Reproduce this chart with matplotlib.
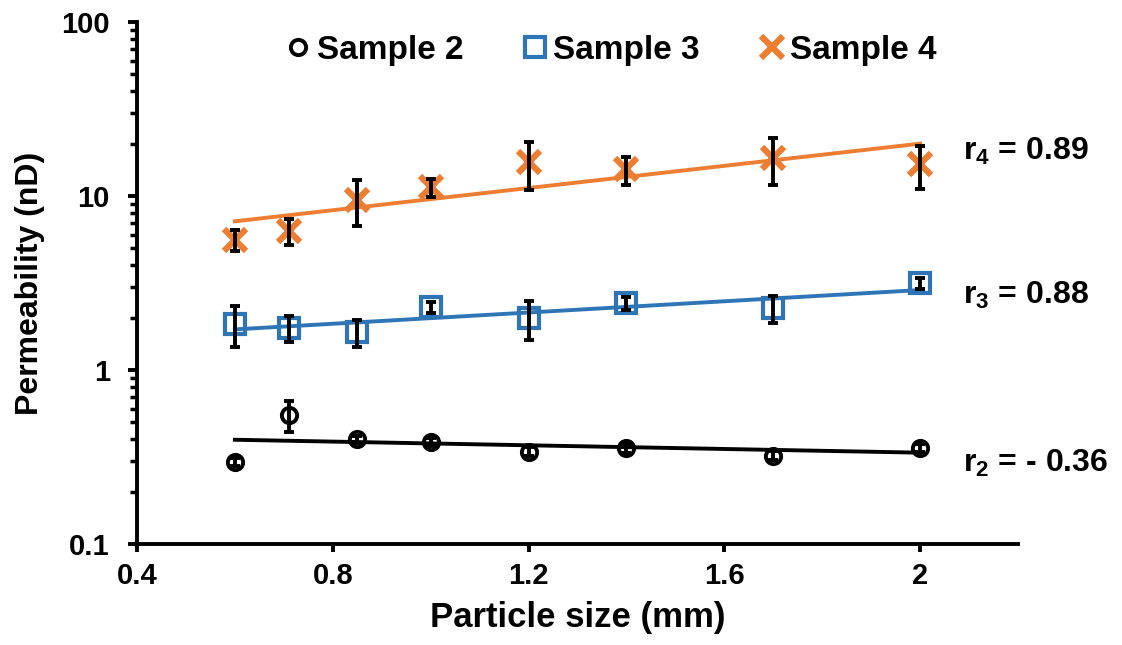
import numpy as np
import matplotlib
matplotlib.use("Agg")
import matplotlib.pyplot as plt
from matplotlib.ticker import LogLocator, NullFormatter, FixedLocator

plt.rcParams['font.family'] = ['Liberation Sans', 'DejaVu Sans']
plt.rcParams['font.weight'] = 'bold'
plt.rcParams['mathtext.fontset'] = 'custom'
plt.rcParams['mathtext.rm'] = 'Liberation Sans:bold'
plt.rcParams['mathtext.it'] = 'Liberation Sans:bold'
plt.rcParams['mathtext.bf'] = 'Liberation Sans:bold'

# particle sizes (mm)
size = [0.6, 0.71, 0.85, 1.0, 1.2, 1.4, 1.7, 2.0]

# permeability (nD) and error bars
s2 = [0.297, 0.552, 0.400, 0.386, 0.340, 0.355, 0.322, 0.357]
s2_err = [0.015, 0.11, 0.02, 0.02, 0.02, 0.02, 0.02, 0.02]
s3 = [1.84, 1.74, 1.65, 2.30, 1.99, 2.42, 2.26, 3.15]
s3_err = [0.49, 0.30, 0.29, 0.17, 0.50, 0.20, 0.40, 0.23]
s4 = [5.6, 6.3, 9.5, 11.2, 15.6, 14.2, 16.6, 15.2]
s4_err = [0.8, 1.1, 2.8, 1.3, 4.8, 2.6, 5.0, 4.2]

labels = ['Sample 2', 'Sample 3', 'Sample 4']
r_texts = ['r$_2$ = - 0.36', 'r$_3$ = 0.88', 'r$_4$ = 0.89']
colors = ['black', '#2E75B6', '#ED7D31']

fig = plt.figure(figsize=(11.22, 6.45), dpi=100)
ax = fig.add_axes([0.1221, 0.1566, 0.7852, 0.8093])

x = np.array(size)
series = [(s2, s2_err, 'o', 11, 2.8), (s3, s3_err, 's', 15, 3.0), (s4, s4_err, 'x', 16, 4.5)]
handles = []
for (vals, err, mk, ms, mew), col, lab in zip(series, colors, labels):
    vals = np.array(vals)
    # exponential trend line (fit on log scale)
    k, b = np.polyfit(x, np.log10(vals), 1)
    xf = np.linspace(x.min(), x.max(), 50)
    ax.plot(xf, 10 ** (k * xf + b), color=col, lw=2.8, zorder=2)
    h, = ax.plot(x, vals, linestyle='none', marker=mk, ms=ms, mew=mew,
                 mec=col, mfc='none', color=col, zorder=3, label=lab)
    handles.append(h)
    ax.errorbar(x, vals, yerr=err, fmt='none', ecolor='black', elinewidth=2.8,
                capsize=3.5, capthick=2.8, zorder=4)

ax.set_yscale('log')
ax.set_ylim(0.1, 100)
ax.set_xlim(0.4, 2.2)
ax.xaxis.set_major_locator(FixedLocator([0.4, 0.8, 1.2, 1.6, 2.0]))
ax.set_xticklabels(['0.4', '0.8', '1.2', '1.6', '2'])
ax.yaxis.set_major_locator(FixedLocator([0.1, 1, 10, 100]))
ax.set_yticklabels(['0.1', '1', '10', '100'])
ax.yaxis.set_minor_locator(LogLocator(base=10, subs=np.arange(2, 10)))
ax.yaxis.set_minor_formatter(NullFormatter())

for s in ['top', 'right']:
    ax.spines[s].set_visible(False)
for s in ['left', 'bottom']:
    ax.spines[s].set_linewidth(2.8)
ax.tick_params(axis='x', which='major', direction='out', length=6, width=2.8,
               labelsize=21, pad=7)
ax.tick_params(axis='y', which='major', direction='out', length=6.5, width=2.8,
               labelsize=21, pad=13)
ax.tick_params(axis='y', which='minor', direction='out', length=5, width=2.5)

ax.set_xlabel('Particle size (mm)', fontsize=25, fontweight='bold', labelpad=8)
ax.set_ylabel('Permeability (nD)', fontsize=23, fontweight='bold', labelpad=12)

# correlation labels
r_pos = [0.29, 2.69, 18.0]
for txt, yv in zip(r_texts, r_pos):
    ax.text(2.087, yv, txt, fontsize=23, fontweight='bold', va='center',
            ha='left', clip_on=False)

ax.legend(handles=handles, loc='upper center', bbox_to_anchor=(0.535, 1.02), ncol=3,
          frameon=False, fontsize=24, handletextpad=0.0, columnspacing=1.6,
          handlelength=1.1, borderaxespad=0.3)

fig.savefig('out.png', dpi=100)
